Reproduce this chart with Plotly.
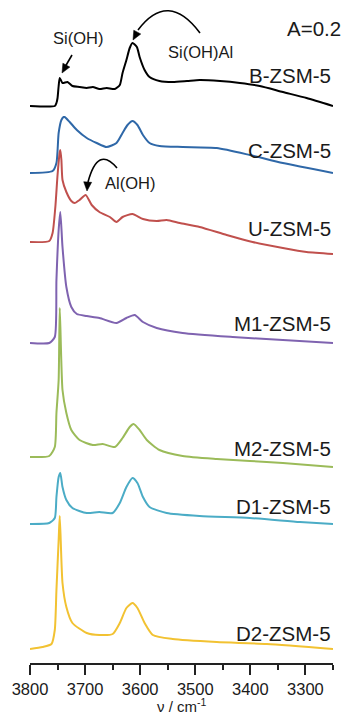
import math
import plotly.graph_objects as go

# ---------------- data ----------------
names = ["B-ZSM-5", "C-ZSM-5", "U-ZSM-5", "M1-ZSM-5", "M2-ZSM-5", "D1-ZSM-5", "D2-ZSM-5"]
colors = ["#000000", "#2f68a8", "#c0504d", "#7f63b0", "#9bbb59", "#4bacc6", "#f2c232"]
offsets = [5.57, 4.90, 4.21, 3.20, 2.06, 1.39, 0.14]

wn_B = [3800, 3755, 3752, 3750, 3748, 3746, 3741, 3732, 3723, 3710, 3697, 3686, 3674, 3661, 3646, 3637,
        3632, 3625, 3619, 3614, 3606, 3601, 3592, 3583, 3565, 3541, 3515, 3492, 3455, 3419, 3383, 3341, 3298, 3250]
ab_B = [0.00, 0.00, 0.03, 0.08, 0.20, 0.28, 0.23, 0.24, 0.20, 0.19, 0.18, 0.19, 0.17, 0.18, 0.17, 0.21,
        0.33, 0.46, 0.58, 0.63, 0.59, 0.49, 0.36, 0.29, 0.25, 0.24, 0.25, 0.26, 0.25, 0.23, 0.20, 0.14, 0.08, 0.00]

wn_C = [3800, 3759, 3752, 3748, 3743, 3739, 3737, 3728, 3715, 3697, 3679, 3661, 3643, 3632, 3623, 3614,
        3605, 3595, 3583, 3565, 3523, 3461, 3401, 3341, 3250]
ab_C = [0.00, 0.02, 0.10, 0.40, 0.53, 0.56, 0.56, 0.51, 0.43, 0.35, 0.30, 0.26, 0.30, 0.40, 0.48, 0.52,
        0.48, 0.38, 0.30, 0.27, 0.26, 0.25, 0.18, 0.10, 0.00]

wn_U = [3800, 3765, 3759, 3754, 3750, 3746, 3745, 3743, 3741, 3734, 3725, 3719, 3710, 3699, 3688, 3674,
        3655, 3643, 3632, 3614, 3595, 3570, 3552, 3528, 3492, 3443, 3396, 3341, 3298, 3250]
ab_U = [0.00, 0.01, 0.09, 0.35, 0.67, 0.90, 0.92, 0.82, 0.62, 0.50, 0.41, 0.39, 0.42, 0.47, 0.37, 0.30,
        0.25, 0.20, 0.25, 0.28, 0.23, 0.21, 0.22, 0.19, 0.15, 0.07, 0.00, -0.06, -0.10, -0.12]

wn_M1 = [3800, 3765, 3755, 3752, 3748, 3745, 3741, 3734, 3725, 3715, 3697, 3674, 3643, 3625, 3610, 3595,
         3570, 3523, 3432, 3341, 3250]
ab_M1 = [0.00, 0.00, 0.06, 0.63, 1.13, 1.31, 0.96, 0.56, 0.36, 0.29, 0.27, 0.25, 0.20, 0.25, 0.28, 0.21,
         0.15, 0.10, 0.06, 0.03, 0.00]

wn_M2 = [3800, 3765, 3755, 3752, 3748, 3746, 3741, 3734, 3725, 3710, 3686, 3668, 3646, 3632, 3619, 3612,
         3601, 3588, 3565, 3523, 3461, 3401, 3341, 3250]
ab_M2 = [0.00, 0.01, 0.10, 0.44, 0.77, 1.49, 0.67, 0.44, 0.27, 0.17, 0.12, 0.13, 0.10, 0.19, 0.30, 0.33,
         0.27, 0.17, 0.07, 0.01, -0.02, -0.04, -0.06, -0.10]

wn_D1 = [3800, 3765, 3755, 3752, 3748, 3745, 3741, 3734, 3723, 3697, 3674, 3650, 3637, 3625, 3614, 3605,
         3595, 3583, 3552, 3492, 3401, 3310, 3250]
ab_D1 = [0.00, 0.01, 0.06, 0.27, 0.47, 0.51, 0.37, 0.24, 0.16, 0.11, 0.12, 0.11, 0.21, 0.37, 0.46, 0.41,
         0.27, 0.17, 0.11, 0.08, 0.06, 0.02, 0.00]

wn_D2 = [3800, 3777, 3761, 3755, 3752, 3748, 3746, 3741, 3734, 3723, 3697, 3674, 3650, 3637, 3625, 3614,
         3605, 3592, 3577, 3541, 3461, 3370, 3250]
ab_D2 = [0.00, 0.02, 0.05, 0.19, 0.59, 1.09, 1.33, 0.66, 0.42, 0.26, 0.16, 0.14, 0.15, 0.26, 0.41, 0.46,
         0.41, 0.26, 0.14, 0.10, 0.07, 0.05, 0.00]

series_wn = [wn_B, wn_C, wn_U, wn_M1, wn_M2, wn_D1, wn_D2]
series_ab = [ab_B, ab_C, ab_U, ab_M1, ab_M2, ab_D1, ab_D2]

tick_vals = [3800, 3700, 3600, 3500, 3400, 3300]
x_range = [3800, 3250]
y_range = [0, 6.63]

# ---------------- figure ----------------
W, H = 348, 717
ML, MR, MT, MB = 30, 15, 0, 54
plot_w = W - ML - MR
plot_h = H - MT - MB


def X(px):  # pixel -> wavenumber (layout helper for annotations)
    return x_range[0] + (px - ML) / plot_w * (x_range[1] - x_range[0])


def Y(py):  # pixel -> y data
    return y_range[1] - (py - MT) / plot_h * (y_range[1] - y_range[0])


def PX(px):  # pixel -> paper x
    return (px - ML) / plot_w


def PY(py):  # pixel -> paper y
    return (H - MB - py) / plot_h


fig = go.Figure()
for n, c, off, wn, ab in zip(names, colors, offsets, series_wn, series_ab):
    fig.add_trace(go.Scatter(
        x=wn, y=[off + a for a in ab], mode="lines", name=n,
        line=dict(color=c, width=2, shape="spline", smoothing=0.6),
        showlegend=False, hoverinfo="skip"))

FONT = "Liberation Sans, Arial, sans-serif"
TXT = "#1a1a1a"
label_y = [75, 150, 228, 323, 448, 506, 633]
annotations = []
for n, ly in zip(names, label_y):
    annotations.append(dict(text=n, x=1.0, xref="paper", y=Y(ly), yref="y",
                            xanchor="right", yanchor="middle", showarrow=False,
                            font=dict(family=FONT, size=20.5, color=TXT)))

annotations.append(dict(text="A=0.2", x=PX(343), y=PY(29), xref="paper", yref="paper",
                        xanchor="right", yanchor="middle", showarrow=False,
                        font=dict(family=FONT, size=20.5, color=TXT)))

ann_font = dict(family=FONT, size=16.5, color=TXT)
annotations.append(dict(text="Si(OH)", x=X(78), y=Y(38), xref="x", yref="y",
                        showarrow=False, font=ann_font))
annotations.append(dict(text="Si(OH)Al", x=X(200), y=Y(52), xref="x", yref="y",
                        showarrow=False, font=ann_font))
annotations.append(dict(text="Al(OH)", x=X(130), y=Y(183), xref="x", yref="y",
                        showarrow=False, font=ann_font))

# axis title
annotations.append(dict(text="ν / cm<sup>-1</sup>", x=PX(181), y=PY(717), xref="paper", yref="paper",
                        showarrow=False, yanchor="bottom",
                        font=dict(family=FONT, size=15, color=TXT)))


def qpath(p0, c, p1):
    return (f"M {X(p0[0])},{Y(p0[1])} Q {X(c[0])},{Y(c[1])} {X(p1[0])},{Y(p1[1])}")


def lpath(p0, p1):
    return f"M {X(p0[0])},{Y(p0[1])} L {X(p1[0])},{Y(p1[1])}"


def head(tip, frm, length=9, half=4):
    dx, dy = tip[0] - frm[0], tip[1] - frm[1]
    d = math.hypot(dx, dy)
    ux, uy = dx / d, dy / d
    bx, by = tip[0] - ux * length, tip[1] - uy * length
    p1 = (bx - uy * half, by + ux * half)
    p2 = (bx + uy * half, by - ux * half)
    return (f"M {X(tip[0])},{Y(tip[1])} L {X(p1[0])},{Y(p1[1])} "
            f"L {X(p2[0])},{Y(p2[1])} Z")


line_style = dict(color="#000", width=1.6)
shapes = [
    # Si(OH) straight arrow
    dict(type="path", xref="x", yref="y", path=lpath((72, 55), (65, 67)), line=line_style),
    dict(type="path", xref="x", yref="y", path=head((62, 73), (72, 55)),
         fillcolor="#000", line=dict(color="#000", width=0.5)),
    # Si(OH)Al curved arrow
    dict(type="path", xref="x", yref="y", path=qpath((200, 33), (168, -10), (138, 30)), line=line_style),
    dict(type="path", xref="x", yref="y", path=head((133, 40), (140, 27)),
         fillcolor="#000", line=dict(color="#000", width=0.5)),
    # Al(OH) curved arrow
    dict(type="path", xref="x", yref="y", path=qpath((117, 168), (98, 145), (88, 182)), line=line_style),
    dict(type="path", xref="x", yref="y", path=head((87, 191), (88, 178)),
         fillcolor="#000", line=dict(color="#000", width=0.5)),
]

fig.update_layout(
    width=W, height=H,
    margin=dict(l=ML, r=MR, t=MT, b=MB),
    paper_bgcolor="white", plot_bgcolor="white",
    annotations=annotations, shapes=shapes,
    xaxis=dict(range=x_range, tickvals=tick_vals, ticks="outside", ticklen=10,
               tickwidth=1.5, tickcolor="#222", showline=True, linecolor="#222",
               linewidth=1.5, showgrid=False, zeroline=False,
               tickfont=dict(family=FONT, size=16.5, color=TXT),
               minor=dict(dtick=50, ticks="outside", ticklen=5, tickwidth=1.5,
                          tickcolor="#222", showgrid=False)),
    yaxis=dict(range=y_range, visible=False, showgrid=False, zeroline=False),
)

fig.write_html("out.html")
